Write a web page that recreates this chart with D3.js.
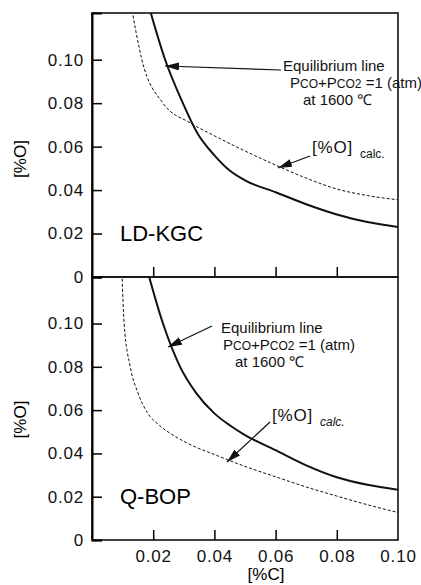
<!DOCTYPE html>
<html>
<head>
<meta charset="utf-8">
<script src="https://cdn.jsdelivr.net/npm/d3@7"></script>
<style>
  body { margin: 0; background: #fff; }
  svg { display: block; font-family: "Liberation Sans", Arial, sans-serif; }
  .tick text { font-size: 17px; fill: #111; letter-spacing: 0.8px; }
  .ann { font-size: 15px; fill: #111; }
</style>
</head>
<body>
<svg></svg>
<script>

var xTicks = [0.02, 0.04, 0.06, 0.08, 0.10];
var yTicks = [0, 0.02, 0.04, 0.06, 0.08, 0.10];

// LD-KGC  [%C, %O]
var kgcEquilibrium = [[0.0185, 0.125], [0.0239, 0.100], [0.0297, 0.080], [0.0345, 0.066],
    [0.040, 0.056], [0.045, 0.049], [0.050, 0.0445], [0.060, 0.039], [0.070, 0.0335],
    [0.080, 0.0288], [0.090, 0.0253], [0.100, 0.023]];
var kgcCalc = [[0.0128, 0.125], [0.0163, 0.100], [0.0232, 0.080], [0.032, 0.071],
    [0.040, 0.065], [0.050, 0.058], [0.060, 0.0515], [0.070, 0.0455], [0.080, 0.0405],
    [0.090, 0.0375], [0.100, 0.0355]];

// Q-BOP
var qbopEquilibrium = [[0.018, 0.125], [0.0232, 0.100], [0.0288, 0.080], [0.034, 0.068],
    [0.040, 0.0585], [0.045, 0.053], [0.050, 0.0485], [0.060, 0.0415], [0.070, 0.0345],
    [0.080, 0.029], [0.090, 0.0255], [0.100, 0.0232]];
var qbopCalc = [[0.0098, 0.123], [0.0105, 0.100], [0.0125, 0.080], [0.015, 0.068],
    [0.018, 0.059], [0.022, 0.053], [0.027, 0.048], [0.033, 0.0435], [0.040, 0.0395],
    [0.050, 0.034], [0.060, 0.0292], [0.070, 0.0245], [0.080, 0.0203], [0.090, 0.0163],
    [0.100, 0.0127]];

var panels = [
    { name: "LD-KGC", eq: kgcEquilibrium, calc: kgcCalc, top: 13, bottom: 277 },
    { name: "Q-BOP", eq: qbopEquilibrium, calc: qbopCalc, top: 277, bottom: 540 }
];

//..................................................................................//

var width = 421;
var height = 585;
var left = 92, right = 398;

var svg = d3.select('svg')
    .attr('width', width)
    .attr('height', height);

svg.append('defs').append('marker')
    .attr('id', 'arrow')
    .attr('markerUnits', 'userSpaceOnUse')
    .attr('markerWidth', 16)
    .attr('markerHeight', 10)
    .attr('refX', 14)
    .attr('refY', 4)
    .attr('orient', 'auto')
    .append('path')
    .attr('d', 'M0,0 L14,4 L0,8 Z')
    .attr('fill', '#111');

var x = d3.scaleLinear().domain([0, 0.1]).range([left, right]);

panels.forEach(function (p, i) {

    var y = d3.scaleLinear().domain([0, 0.1215]).range([p.bottom, p.top]);

    svg.append('clipPath').attr('id', 'clip' + i)
        .append('rect')
        .attr('x', left).attr('y', p.top)
        .attr('width', right - left).attr('height', p.bottom - p.top);

    var line = d3.line()
        .x(function (d) { return x(d[0]); })
        .y(function (d) { return y(d[1]); })
        .curve(d3.curveMonotoneX);

    var g = svg.append('g');

    g.append('path')
        .datum(p.calc)
        .attr('d', line)
        .attr('clip-path', 'url(#clip' + i + ')')
        .attr('fill', 'none')
        .attr('stroke', '#111')
        .attr('stroke-width', 1)
        .attr('stroke-dasharray', '3,2');

    g.append('path')
        .datum(p.eq)
        .attr('d', line)
        .attr('clip-path', 'url(#clip' + i + ')')
        .attr('fill', 'none')
        .attr('stroke', '#111')
        .attr('stroke-width', 2);

    // frame
    g.append('rect')
        .attr('x', left).attr('y', p.top)
        .attr('width', right - left).attr('height', p.bottom - p.top)
        .attr('fill', 'none')
        .attr('stroke', '#111')
        .attr('stroke-width', 1.6);

    // y axis, ticks inward
    var yAxis = d3.axisLeft(y)
        .tickValues(i == 0 ? yTicks : yTicks.filter(function (t) { return t < 0.11; }))
        .tickSize(-10)
        .tickPadding(8)
        .tickFormat(function (d) { return d == 0 ? '0' : d3.format('.2f')(d); });

    g.append('g')
        .attr('transform', 'translate(' + left + ',0)')
        .call(yAxis)
        .call(function (s) {
            s.select('.domain').attr('stroke-width', 2);
            s.selectAll('.tick line').attr('stroke-width', 1.5);
        });

    // x axis, ticks inward
    var xAxis = d3.axisBottom(x)
        .tickValues(xTicks)
        .tickSize(-10)
        .tickPadding(10)
        .tickFormat(i == 1 ? d3.format('.2f') : '');

    g.append('g')
        .attr('transform', 'translate(0,' + p.bottom + ')')
        .call(xAxis)
        .call(function (s) {
            s.select('.domain').remove();
            s.selectAll('.tick line').attr('stroke-width', 1.5)
                .attr('display', function (d) { return d == 0.1 ? 'none' : null; });
        });

    // y title
    svg.append('text')
        .attr('transform', 'translate(26,' + ((p.top + p.bottom) / 2 + (i == 0 ? 14 : 11)) + ') rotate(-90)')
        .attr('text-anchor', 'middle')
        .style('font-size', '17px')
        .text('[%O]');

    // panel name
    svg.append('text')
        .attr('x', 120).attr('y', p.bottom - 36)
        .style('font-size', '22px')
        .text(p.name);
});

svg.append('text')
    .attr('x', 266).attr('y', 580)
    .attr('text-anchor', 'middle')
    .style('font-size', '17px')
    .text('[%C]');

//.............................. annotations ..............................//

function label(x0, y0, d2, d3x) {
    var t = svg.append('g');
    t.append('text').attr('class', 'ann').attr('x', x0).attr('y', y0).text('Equilibrium line');
    var l2 = t.append('text').attr('class', 'ann').attr('x', x0 + d2).attr('y', y0 + 17);
    l2.append('tspan').text('P');
    l2.append('tspan').style('font-size', '12px').text('CO');
    l2.append('tspan').text('+P');
    l2.append('tspan').style('font-size', '12px').text('CO2');
    l2.append('tspan').text(' =1 (atm)');
    t.append('text').attr('class', 'ann').attr('x', x0 + d3x).attr('y', y0 + 34).text('at 1600 ℃');
}

function calcLabel(x0, y0, italic) {
    var t = svg.append('text').attr('class', 'ann').attr('x', x0).attr('y', y0)
        .style('font-size', '17px').style('letter-spacing', '0.8px');
    t.append('tspan').text('[%O]');
    t.append('tspan').attr('dx', 7).attr('dy', 5).style('font-size', '12px')
        .style('letter-spacing', '0px')
        .style('font-style', italic ? 'italic' : 'normal').text('calc.');
}

function arrow(x1, y1, x2, y2) {
    svg.append('line')
        .attr('x1', x1).attr('y1', y1).attr('x2', x2).attr('y2', y2)
        .attr('stroke', '#111').attr('stroke-width', 1.2)
        .attr('marker-end', 'url(#arrow)');
}

label(283, 71, 7, 20);
arrow(281, 70, 165, 66);
calcLabel(312, 153, false);
arrow(310, 156, 278, 168);

label(221, 333, 2, 14);
arrow(212, 326, 168, 347);
calcLabel(272, 421, true);
arrow(270, 422, 227, 462);

</script>
</body>
</html>
